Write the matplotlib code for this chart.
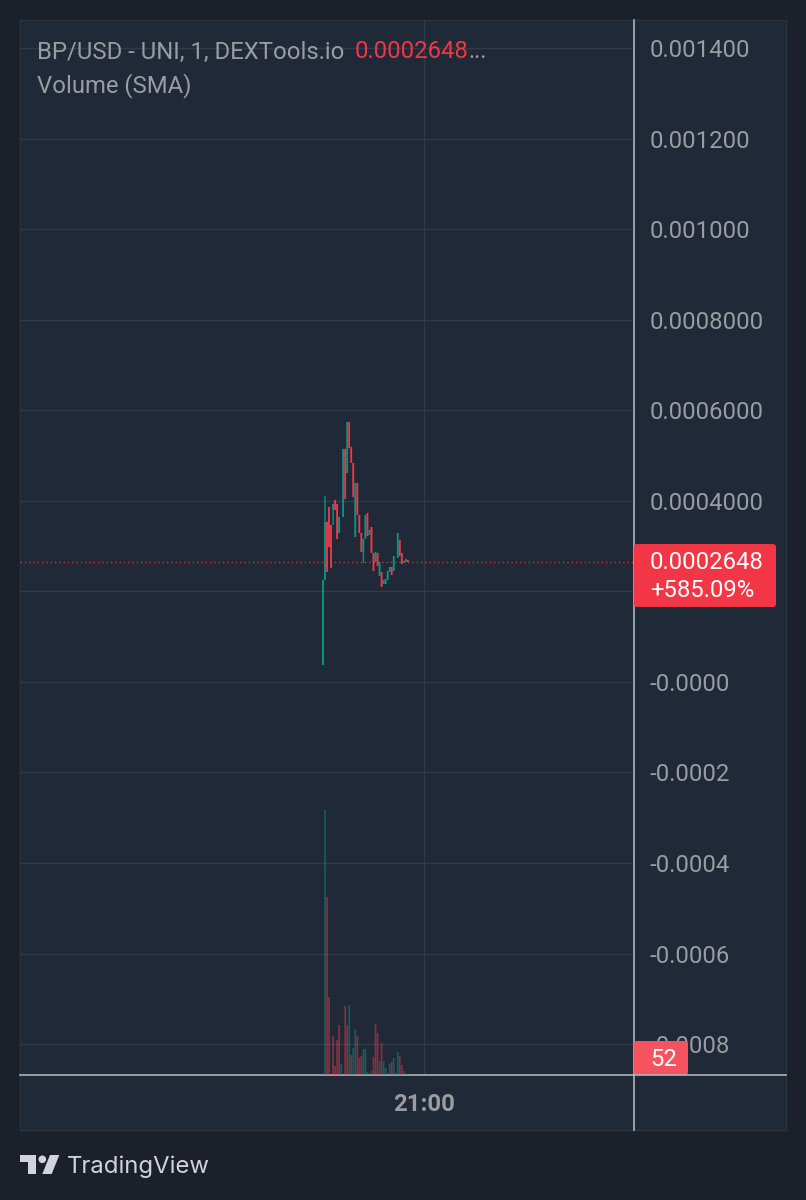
"""BP/USD TradingView snapshot: 1-minute candles with volume overlay."""
import matplotlib
matplotlib.use("Agg")
import matplotlib.pyplot as plt
import numpy as np
from matplotlib.lines import Line2D
from matplotlib.patches import Circle, FancyBboxPatch, Polygon, Rectangle

W, H = 806, 1200
BG = "#1c202b"; PANE = "#1f2937"; GRID = "#303a48"; BORDER = "#2a3340"
AXIS_LINE = "#b0b2b8"; TXT = "#9b9ca1"
UP = "#0b9383"; DOWN = "#f23645"

# minutes relative to 21:00, prices in units of 1e-4
MINUTE = [-50, -49, -48, -47, -46, -45, -44, -43, -42, -40, -39, -38, -37, -36, -35, -34, -33, -32, -31, -30,
          -29, -28, -27, -26, -25, -24, -23, -22, -21, -20, -19, -18, -17, -16, -15, -13, -12, -11, -10, -9, -8]
OPEN = [0.375, 2.252, 3.533, 3.864, 3.467, 3.798, 4.019, 3.930, 3.290, 3.643, 5.145, 4.615, 5.741, 5.189, 4.836,
        3.202, 4.394, 3.687, 3.290, 2.870, 3.157, 3.732, 3.246, 3.422, 2.848, 2.650, 2.848, 2.340, 2.429, 2.164,
        2.164, 2.252, 2.429, 2.539, 2.451, 2.738, 3.135, 2.848, 2.628, 2.650, 2.694]
HIGH = [2.252, 4.114, 3.533, 3.864, 3.467, 3.930, 4.019, 3.930, 3.643, 5.145, 5.145, 5.741, 5.741, 5.189, 4.836,
        4.394, 4.394, 3.687, 3.290, 3.157, 3.687, 3.732, 3.356, 3.422, 2.848, 2.870, 2.848, 2.650, 2.429, 2.252,
        2.274, 2.451, 2.539, 2.539, 2.782, 3.290, 3.135, 2.848, 2.672, 2.716, 2.694]
LOW = [0.375, 2.252, 2.429, 2.981, 2.517, 3.467, 3.798, 3.157, 3.290, 3.643, 4.041, 4.615, 5.167, 4.836, 4.085,
       3.202, 3.687, 3.290, 2.870, 2.628, 3.157, 3.224, 3.246, 2.848, 2.451, 2.650, 2.561, 2.340, 2.098, 2.164,
       2.164, 2.252, 2.429, 2.363, 2.451, 2.738, 2.782, 2.606, 2.628, 2.650, 2.650]
CLOSE = [2.252, 3.533, 2.429, 2.981, 2.517, 3.930, 3.798, 3.157, 3.643, 5.145, 4.041, 5.741, 5.167, 4.836, 4.085,
         4.394, 3.687, 3.290, 2.870, 3.157, 3.687, 3.224, 3.356, 2.848, 2.451, 2.870, 2.561, 2.650, 2.098, 2.252,
         2.274, 2.451, 2.539, 2.363, 2.782, 3.290, 2.782, 2.606, 2.672, 2.716, 2.650]

VOL_MINUTE = [-49, -48, -47, -45, -44, -43, -42, -41, -39, -38, -37, -36, -35, -34, -33, -32, -31, -30, -29, -28,
              -26, -25, -24, -23, -22, -21, -20, -19, -17, -16, -15, -14, -13, -12, -11, -10, -8]
VOLUME = [9275, 6230, 2730, 1365, 315, 1225, 1750, 385, 2415, 1750, 2450, 700, 945, 1610, 1365, 595, 665, 910,
          910, 105, 140, 630, 1785, 1470, 490, 1120, 490, 245, 385, 455, 595, 70, 805, 665, 350, 140, 52]
VOL_UP = [1, 0, 0, 0, 0, 0, 0, 1, 0, 0, 1, 0, 1, 1, 0, 0, 0, 1, 1, 1,
          1, 0, 0, 0, 1, 0, 1, 1, 1, 0, 1, 1, 1, 0, 0, 1, 0]

PRICE_TICKS = [0.0014, 0.0012, 0.0010, 0.0008, 0.0006, 0.0004, 0.0002, 0.0, -0.0002, -0.0004, -0.0006, -0.0008]
PRICE_LABELS = ["0.001400", "0.001200", "0.001000", "0.0008000", "0.0006000", "0.0004000", "0.0002000",
                "-0.0000", "-0.0002", "-0.0004", "-0.0006", "-0.0008"]
LAST_PRICE = 0.0002648

plt.rcParams["font.family"] = ["Roboto", "DejaVu Sans"]

fig = plt.figure(figsize=(W / 100, H / 100), dpi=100, facecolor=BG)
fig.add_artist(Rectangle((20 / W, 1 - 1130 / H), 766 / W, 1110 / H, transform=fig.transFigure,
                         facecolor=PANE, edgecolor=BORDER, lw=1, zorder=-5))

pos = [20 / W, 1 - 1075 / H, 614 / W, 1055 / H]
ax = fig.add_axes(pos, facecolor="none")
xlim = (-200, 103.96)
ax.set_xlim(*xlim); ax.set_ylim(-0.000868, 0.0014617)
ax.yaxis.tick_right()
ax.set_yticks(PRICE_TICKS); ax.set_yticklabels(PRICE_LABELS, fontsize=17.2, color=TXT)
ax.set_xticks([0]); ax.set_xticklabels(["21:00"], fontsize=17.2, color=TXT, fontweight="bold")
ax.tick_params(axis="y", length=0, pad=11.5)
ax.tick_params(axis="x", length=0, pad=13)
ax.grid(True, color=GRID, lw=1)
ax.set_axisbelow(True)
for s in ["top", "left"]:
    ax.spines[s].set_visible(False)
for s in ["right", "bottom"]:
    ax.spines[s].set_color(AXIS_LINE); ax.spines[s].set_linewidth(1.2)

# candles, snapping off so the 2 px bars keep an even width
t = np.array(MINUTE)
o, hi, lo, c = [np.array(a) * 1e-4 for a in (OPEN, HIGH, LOW, CLOSE)]
colors = [UP if ci >= oi else DOWN for oi, ci in zip(o, c)]
ax.vlines(t, lo, hi, colors=colors, lw=1.0, zorder=3, snap=False)
ax.bar(t, c - o, bottom=o, width=0.85, color=colors, linewidth=0, zorder=3, snap=False)
ax.axhline(LAST_PRICE, color=DOWN, ls=(0, (1, 2.1)), lw=1, alpha=0.8, zorder=2)

# volume overlay
vax = fig.add_axes(pos, facecolor="none")
vax.set_xlim(*xlim); vax.set_ylim(0, 1055 * 35)
vax.axis("off")
vax.bar(VOL_MINUTE, VOLUME, width=0.85, linewidth=0, alpha=0.5, snap=False,
        color=[UP if u else DOWN for u in VOL_UP])

# chrome in pixel coordinates
over = fig.add_axes([0, 0, 1, 1], facecolor="none")
over.set_xlim(0, W); over.set_ylim(H, 0); over.axis("off")
over.add_line(Line2D([634, 634], [1075, 1130], color=AXIS_LINE, lw=1.2))
over.add_line(Line2D([634, 786], [1075, 1075], color=AXIS_LINE, lw=1.2))

py = H - ax.transData.transform((0, LAST_PRICE))[1]
over.add_patch(FancyBboxPatch((634, py - 18), 142, 63, boxstyle="round,pad=0,rounding_size=3",
                              facecolor=DOWN, edgecolor="none"))
over.text(650, py, "0.0002648", color="white", fontsize=17.2, va="center")
over.text(650, py + 28, "+585.09%", color="white", fontsize=17.2, va="center")
over.add_patch(FancyBboxPatch((634, 1041), 54, 34, boxstyle="round,pad=0,rounding_size=3",
                              facecolor="#f7525f", edgecolor="none"))
over.text(663.5, 1060, "52", color="white", fontsize=17.2, va="center", ha="center")

over.text(37, 52, "BP/USD - UNI, 1, DEXTools.io", color=TXT, fontsize=17.2, va="center")
over.text(355, 52, "0.0002648", color=DOWN, fontsize=17.2, va="center")
over.text(468, 52, "...", color=TXT, fontsize=17.2, va="center")
over.text(37, 86, "Volume (SMA)", color=TXT, fontsize=17.2, va="center")

# TradingView logo
LOGO = "#d1d4dc"
over.add_patch(Polygon([(20, 1155), (36, 1155), (36, 1174), (28, 1174), (28, 1162), (20, 1162)], color=LOGO, lw=0))
over.add_patch(Circle((42.3, 1159.3), 3.8, color=LOGO, lw=0))
over.add_patch(Polygon([(50, 1155), (59.3, 1155), (51.7, 1174), (42.3, 1174)], color=LOGO, lw=0))
over.text(67, 1167, "TradingView", color=LOGO, fontsize=17.2, va="center", family="Inter")

fig.savefig("out.png", dpi=100, facecolor=BG)
